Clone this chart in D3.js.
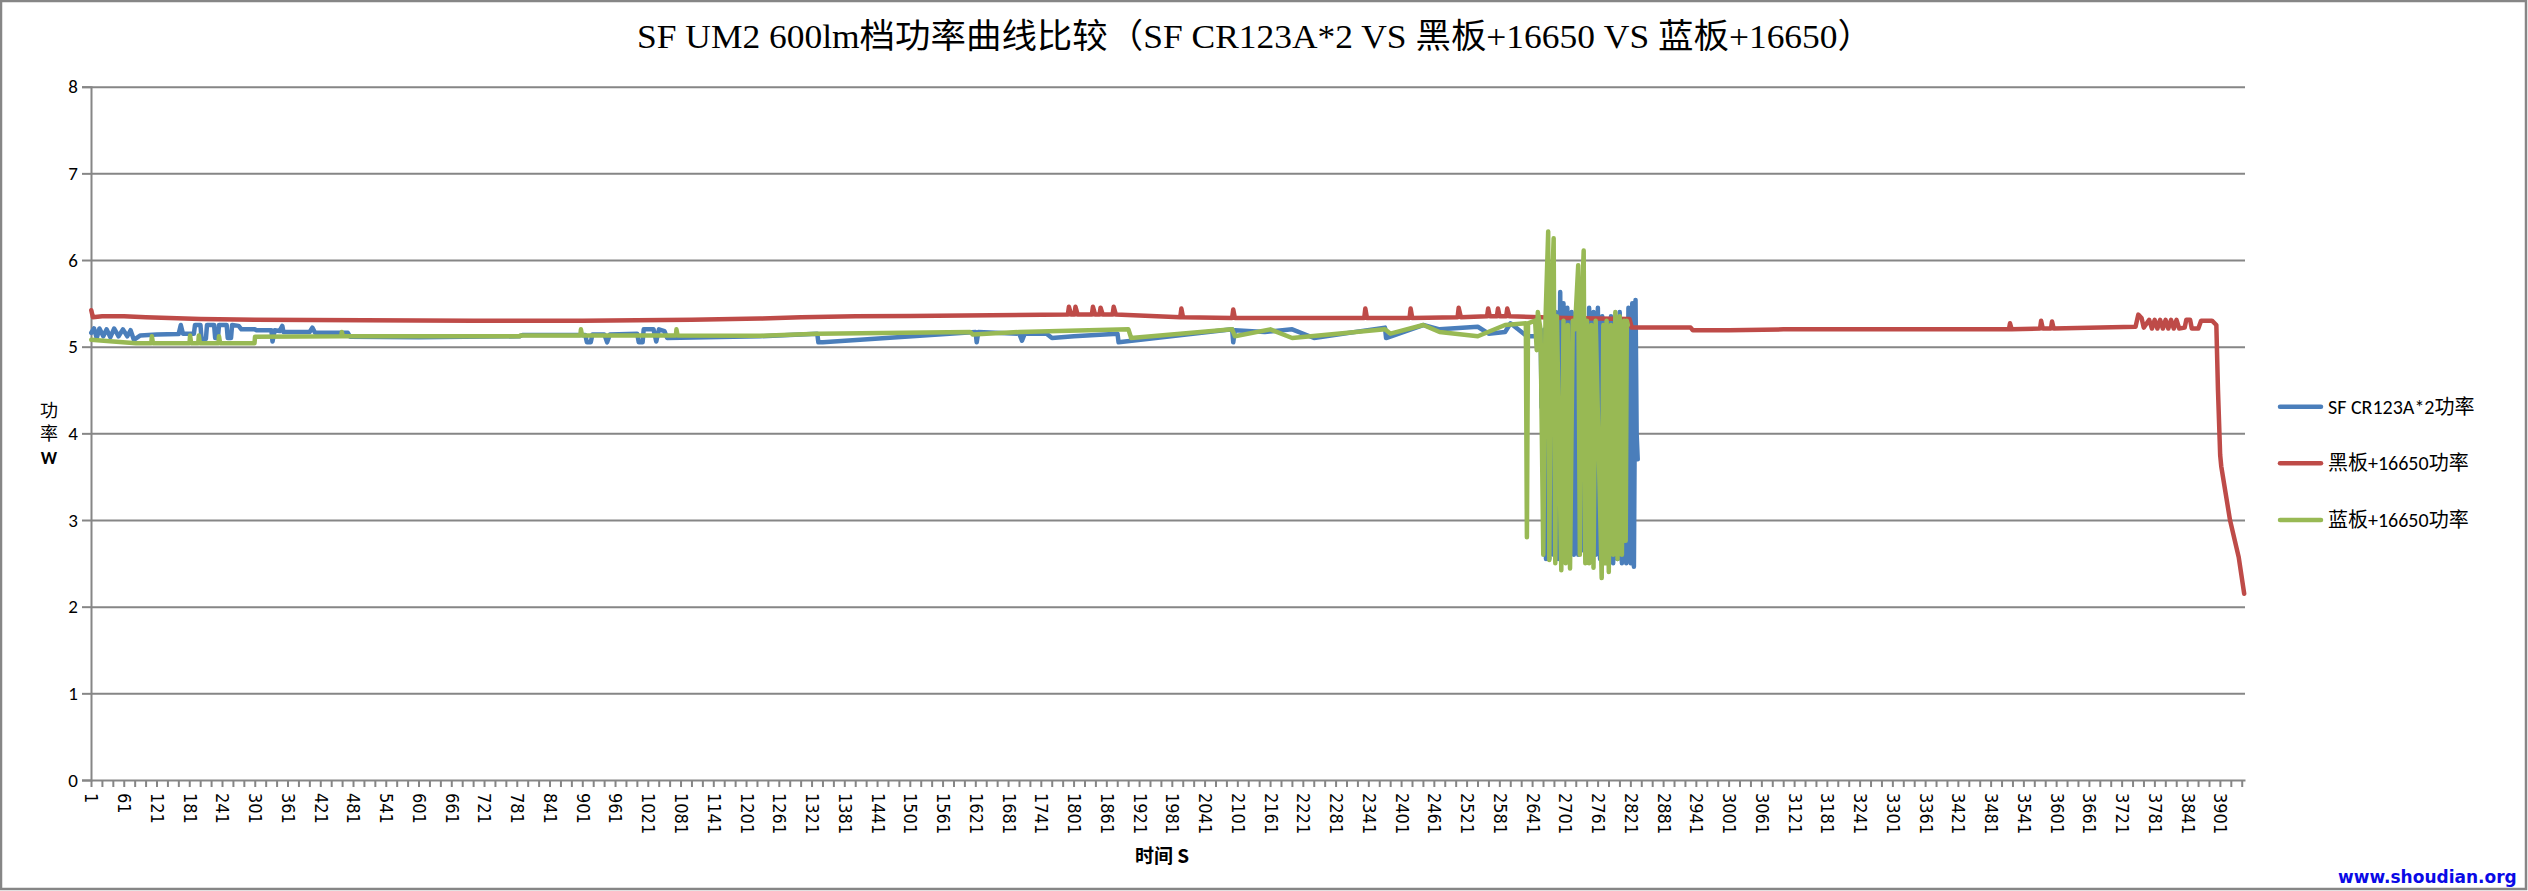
<!DOCTYPE html>
<html><head><meta charset="utf-8">
<script src="https://cdn.jsdelivr.net/npm/d3@7"></script>
<style>body{margin:0;background:#fff}svg{display:block}</style>
</head><body>
<svg id="c" width="2528" height="891"></svg>
<script>
const titleText = "SF UM2 600lm档功率曲线比较（SF CR123A*2 VS 黑板+16650 VS 蓝板+16650）";
const categoryCount = 3946;
const yTicks = [0,1,2,3,4,5,6,7,8];
const xLabels = [1,61,121,181,241,301,361,421,481,541,601,661,721,781,841,901,961,1021,1081,1141,1201,1261,1321,1381,1441,1501,1561,1621,1681,1741,1801,1861,1921,1981,2041,2101,2161,2221,2281,2341,2401,2461,2521,2581,2641,2701,2761,2821,2881,2941,3001,3061,3121,3181,3241,3301,3361,3421,3481,3541,3601,3661,3721,3781,3841,3901];
const seriesNames = ["SF CR123A*2功率","黑板+16650功率","蓝板+16650功率"];
const seriesColors = ["#4A7EBB","#BE4B48","#98B954"];

// [category index, watts]
const blueData = [[0,5.16],[5,5.21],[10,5.1],[15,5.21],[22,5.12],[28,5.2],[35,5.11],[42,5.21],[50,5.12],[58,5.2],[66,5.12],[72,5.19],[78,5.08],[90,5.13],[120,5.14],[160,5.145],[164,5.25],[168,5.15],[188,5.15],[190,5.25],[200,5.25],[202,5.09],[210,5.09],[212,5.25],[225,5.25],[227,5.1],[232,5.1],[234,5.25],[248,5.25],[250,5.1],[256,5.1],[258,5.25],[270,5.24],[275,5.2],[300,5.2],[302,5.19],[330,5.19],[332,5.06],[336,5.19],[345,5.18],[350,5.24],[352,5.17],[400,5.17],[405,5.22],[410,5.16],[470,5.16],[474,5.115],[600,5.11],[785,5.12],[790,5.135],[905,5.135],[908,5.05],[915,5.05],[918,5.14],[940,5.14],[945,5.05],[950,5.14],[1000,5.15],[1003,5.05],[1010,5.05],[1012,5.2],[1030,5.2],[1035,5.06],[1040,5.2],[1050,5.18],[1055,5.1],[1225,5.12],[1330,5.15],[1332,5.05],[1340,5.05],[1620,5.17],[1622,5.05],[1625,5.17],[1700,5.15],[1705,5.07],[1710,5.15],[1750,5.15],[1760,5.1],[1800,5.12],[1880,5.15],[1882,5.05],[2090,5.2],[2092,5.05],[2095,5.19],[2150,5.17],[2200,5.2],[2240,5.1],[2370,5.22],[2372,5.1],[2440,5.25],[2470,5.2],[2540,5.23],[2560,5.15],[2590,5.17],[2600,5.27],[2630,5.12],[2645,5.12],[2655,5.2],[2657,4.3],[2659,4.3],[2661,3.6],[2663,5.2],[2665,2.55],[2668,5.3],[2671,2.55],[2675,5.35],[2679,2.6],[2683,5.4],[2687,2.55],[2691,5.63],[2694,2.6],[2697,5.5],[2700,2.55],[2704,5.45],[2708,2.6],[2712,5.4],[2716,2.6],[2720,5.35],[2724,2.6],[2728,5.45],[2732,2.65],[2736,5.3],[2740,2.6],[2744,5.45],[2748,2.55],[2752,5.4],[2756,2.6],[2760,5.45],[2764,2.55],[2768,5.35],[2772,2.6],[2776,5.3],[2780,2.55],[2784,5.35],[2788,2.5],[2792,5.3],[2796,2.55],[2800,5.4],[2804,2.5],[2808,5.3],[2812,2.5],[2816,5.45],[2820,2.5],[2823,5.5],[2826,2.46],[2829,5.54],[2831,4.0],[2833,3.7]];

const redData = [[0,5.42],[3,5.34],[20,5.35],[60,5.35],[100,5.34],[200,5.32],[300,5.31],[500,5.305],[700,5.30],[900,5.30],[1000,5.305],[1100,5.31],[1225,5.325],[1300,5.34],[1400,5.35],[1500,5.355],[1600,5.36],[1789,5.37],[1791,5.46],[1795,5.37],[1801,5.37],[1803,5.46],[1807,5.37],[1833,5.37],[1835,5.46],[1839,5.37],[1847,5.37],[1849,5.45],[1853,5.37],[1871,5.37],[1873,5.46],[1877,5.37],[1995,5.34],[1997,5.44],[2000,5.34],[2090,5.33],[2092,5.43],[2095,5.33],[2300,5.33],[2332,5.33],[2334,5.44],[2337,5.33],[2415,5.33],[2417,5.44],[2420,5.33],[2503,5.34],[2505,5.45],[2509,5.34],[2557,5.35],[2559,5.44],[2562,5.35],[2575,5.35],[2577,5.44],[2580,5.35],[2592,5.35],[2594,5.44],[2598,5.35],[2700,5.33],[2818,5.32],[2822,5.22],[2930,5.22],[2934,5.19],[3000,5.19],[3100,5.2],[3300,5.2],[3496,5.2],[3513,5.2],[3515,5.27],[3518,5.2],[3570,5.21],[3572,5.3],[3575,5.21],[3590,5.21],[3592,5.29],[3595,5.21],[3745,5.23],[3750,5.37],[3756,5.33],[3760,5.22],[3770,5.31],[3775,5.21],[3780,5.31],[3785,5.21],[3790,5.31],[3795,5.21],[3800,5.31],[3805,5.21],[3810,5.31],[3815,5.21],[3820,5.31],[3825,5.21],[3835,5.22],[3838,5.31],[3845,5.31],[3848,5.21],[3860,5.21],[3865,5.3],[3885,5.3],[3893,5.25],[3896,4.5],[3900,3.75],[3902,3.62],[3918,3.0],[3934,2.57],[3944,2.15]];

const greenData = [[0,5.08],[40,5.06],[82,5.04],[110,5.04],[111,5.12],[113,5.04],[180,5.04],[181,5.13],[183,5.04],[196,5.04],[197,5.13],[199,5.04],[233,5.04],[234,5.12],[236,5.04],[299,5.04],[300,5.115],[458,5.12],[459,5.17],[461,5.12],[785,5.12],[786,5.13],[896,5.13],[897,5.2],[899,5.13],[1071,5.13],[1072,5.2],[1074,5.13],[1225,5.125],[1330,5.15],[1610,5.17],[1615,5.14],[1700,5.17],[1900,5.2],[1905,5.1],[2090,5.2],[2095,5.12],[2160,5.2],[2200,5.1],[2370,5.2],[2380,5.15],[2440,5.25],[2470,5.17],[2540,5.12],[2590,5.25],[2628,5.27],[2630,2.8],[2632,5.27],[2645,5.3],[2648,4.96],[2650,5.4],[2655,5.2],[2660,2.6],[2664,5.3],[2669,6.33],[2671,2.54],[2674,5.3],[2679,6.25],[2682,2.5],[2685,5.35],[2693,2.42],[2697,5.3],[2701,2.5],[2705,5.25],[2709,2.44],[2714,5.3],[2718,5.2],[2724,5.94],[2727,2.6],[2730,5.35],[2734,6.11],[2737,2.5],[2740,5.3],[2744,2.5],[2748,5.25],[2752,2.45],[2756,5.3],[2767,2.33],[2770,5.25],[2773,2.5],[2776,5.3],[2780,2.4],[2784,5.25],[2788,2.6],[2792,5.4],[2796,2.55],[2800,5.35],[2804,2.6],[2808,5.3],[2811,2.76],[2813,5.3],[2815,5.25]];

const series = [blueData, redData, greenData];

const W = 2528, H = 891;
const plot = {left: 91, right: 2245, top: 86.7, bottom: 780};
const svg = d3.select("#c");

svg.append("rect").attr("x",1).attr("y",1).attr("width",W-3).attr("height",H-3)
  .attr("fill","#fff").attr("stroke","#868686").attr("stroke-width",2.5);

const x = d3.scaleLinear().domain([0, categoryCount]).range([plot.left, plot.right]);
const y = d3.scaleLinear().domain([0, 8]).range([plot.bottom, plot.top]);

svg.append("g").attr("transform",`translate(${plot.left},0)`)
  .call(d3.axisLeft(y).tickValues(yTicks.slice(1)).tickSize(-(plot.right-plot.left)).tickFormat(""))
  .call(g=>g.select(".domain").remove())
  .call(g=>g.selectAll("line").attr("stroke","#868686").attr("stroke-width",2));

const yAxis = svg.append("g").attr("transform",`translate(${plot.left},0)`)
  .call(d3.axisLeft(y).tickValues(yTicks).tickSize(9).tickPadding(4).tickFormat(d3.format("d")));
yAxis.select(".domain").attr("stroke","#868686").attr("stroke-width",2);
yAxis.selectAll("line").attr("stroke","#868686").attr("stroke-width",2);
yAxis.selectAll("text").attr("font-family","Carlito, Lato, sans-serif").attr("font-size",19).attr("fill","#000");

const xTickVals = d3.range(0, categoryCount+1, 20);
const xAxis = svg.append("g").attr("transform",`translate(0,${plot.bottom})`)
  .call(d3.axisBottom(x).tickValues(xTickVals).tickSize(7).tickFormat("").tickSizeOuter(0));
xAxis.select(".domain").attr("stroke","#868686").attr("stroke-width",2);
xAxis.selectAll("line").attr("stroke","#868686").attr("stroke-width",2);

const xLab = svg.append("g").attr("transform",`translate(0,${plot.bottom})`)
  .call(d3.axisBottom(x).tickValues(xLabels.map(d=>d-0.5)).tickSize(0).tickFormat((d,i)=>String(xLabels[i])));
xLab.select(".domain").remove();
xLab.selectAll("text")
  .attr("font-family","'DejaVu Sans Condensed', 'DejaVu Sans', sans-serif")
  .attr("font-size",18).attr("fill","#000")
  .attr("transform","translate(0,13) rotate(90)")
  .attr("text-anchor","start").attr("dy","0.35em").attr("x",0).attr("y",0);

const line = d3.line().x(d=>x(d[0]+0.5)).y(d=>y(d[1]));
svg.append("g").selectAll("path").data(series).join("path")
  .attr("d",line).attr("fill","none")
  .attr("stroke",(d,i)=>seriesColors[i]).attr("stroke-width",4.5)
  .attr("stroke-linejoin","round").attr("stroke-linecap","round");

svg.append("text").attr("x",1255).attr("y",48).attr("text-anchor","middle")
  .attr("font-family","'Liberation Serif','Noto Sans CJK SC',serif").attr("font-size",34)
  .attr("textLength",1236).attr("lengthAdjust","spacingAndGlyphs").attr("fill","#000")
  .text(titleText);

const yt = svg.append("g").attr("font-family","'Noto Sans CJK SC',sans-serif").attr("fill","#000").attr("text-anchor","middle");
yt.append("text").attr("x",49).attr("y",417).attr("font-size",18).text("功");
yt.append("text").attr("x",49).attr("y",440).attr("font-size",18).text("率");
yt.append("text").attr("x",49).attr("y",464).attr("font-size",18).attr("font-weight","bold").attr("font-family","Carlito, Lato, sans-serif").text("W");

svg.append("text").attr("x",1162).attr("y",863).attr("text-anchor","middle")
  .attr("font-family","'Noto Sans CJK SC',sans-serif").attr("font-size",19).attr("font-weight","bold").attr("fill","#000")
  .text("时间 S");

const legY = [406.7, 463.3, 520];
const leg = svg.append("g");
seriesNames.forEach((n,i)=>{
  leg.append("line").attr("x1",2280).attr("x2",2321).attr("y1",legY[i]).attr("y2",legY[i])
    .attr("stroke",seriesColors[i]).attr("stroke-width",4.5).attr("stroke-linecap","round");
  leg.append("text").attr("x",2328).attr("y",legY[i]+7).attr("font-size",20)
    .attr("font-family","Carlito, Lato, 'Noto Sans CJK SC', sans-serif").attr("fill","#000").text(n);
});

svg.append("text").attr("x",2338).attr("y",883).attr("font-family","'DejaVu Sans',sans-serif")
  .attr("font-weight","bold").attr("font-size",17).attr("fill","#0a0ae6")
  .text("www.shoudian.org");
</script>
</body></html>
